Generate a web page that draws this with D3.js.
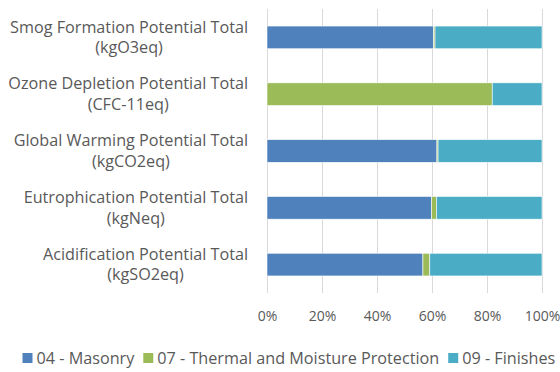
<!DOCTYPE html>
<html>
<head>
<meta charset="utf-8">
<script src="https://cdn.jsdelivr.net/npm/d3@7"></script>
<style>
  html, body { margin: 0; padding: 0; background: #fff; }
  svg { display: block; font-family: "Open Sans", Lato, sans-serif; }
</style>
</head>
<body>
<svg id="chart" width="560" height="372"></svg>
<script>
// Impact categories, top to bottom; each label split across two lines
const categories = [
  ["Smog Formation Potential Total", "(kgO3eq)"],
  ["Ozone Depletion Potential Total", "(CFC-11eq)"],
  ["Global Warming Potential Total", "(kgCO2eq)"],
  ["Eutrophication Potential Total", "(kgNeq)"],
  ["Acidification Potential Total", "(kgSO2eq)"]
];
const seriesNames = ["04 - Masonry", "07 - Thermal and Moisture Protection", "09 - Finishes"];
// Share of each impact (%) by division, same order as categories
const masonry  = [60.6, 0.0, 61.8, 59.9, 56.7];
const thermal  = [0.5, 81.9, 0.4, 1.7, 2.5];
const finishes = [38.9, 18.1, 37.8, 38.4, 40.8];
const tickValues = [0, 20, 40, 60, 80, 100];
const colors = ["#4F81BD", "#9BBB59", "#4BACC6"];

const svg = d3.select("#chart");
const margin = { left: 267, right: 18, top: 9, bottom: 79 };
const W = 560, H = 372;
const plotW = W - margin.left - margin.right;
const plotH = H - margin.top - margin.bottom;
const textColor = "#595959";

const rows = categories.map((c, i) => ({
  key: c.join(" "),
  lines: c,
  "04 - Masonry": masonry[i],
  "07 - Thermal and Moisture Protection": thermal[i],
  "09 - Finishes": finishes[i]
}));

const x = d3.scaleLinear().domain([0, 100]).range([0, plotW]);
const y = d3.scaleBand().domain(rows.map(r => r.key)).range([0, plotH]).paddingInner(0.6).paddingOuter(0.3);
const color = d3.scaleOrdinal().domain(seriesNames).range(colors);

const g = svg.append("g").attr("transform", `translate(${margin.left},${margin.top})`);

// vertical gridlines
g.append("g")
  .selectAll("line")
  .data(tickValues)
  .join("line")
  .attr("x1", d => x(d) + 0.5).attr("x2", d => x(d) + 0.5)
  .attr("y1", 0).attr("y2", plotH)
  .attr("stroke", "#D9D9D9").attr("stroke-width", 1);

// stacked bars
const stack = d3.stack().keys(seriesNames);
const layers = stack(rows);
g.append("g")
  .selectAll("g")
  .data(layers)
  .join("g")
  .attr("fill", d => color(d.key))
  .selectAll("rect")
  .data(d => d)
  .join("rect")
  .attr("x", d => x(d[0]))
  .attr("width", d => Math.max(0, x(d[1]) - x(d[0])))
  .attr("y", d => y(d.data.key))
  .attr("height", y.bandwidth())
  .attr("stroke", "#fff")
  .attr("stroke-width", 0.6);

// x axis tick labels
const xAxis = d3.axisBottom(x).tickValues(tickValues).tickFormat(d => d + "%").tickSize(0).tickPadding(18);
const xg = g.append("g").attr("transform", `translate(0,${plotH})`).call(xAxis);
xg.select(".domain").remove();
xg.selectAll("text").attr("fill", textColor).attr("font-size", 14).attr("font-family", "'Open Sans', sans-serif");

// category labels: two centred lines, block right-aligned against the axis
const labelRight = -19;
const lineH = 20.5;
const lab = g.append("g");
rows.forEach(r => {
  const t = lab.append("text")
    .attr("fill", textColor)
    .attr("font-size", 16.2)
    .attr("text-anchor", "middle");
  r.lines.forEach((ln, k) => {
    t.append("tspan").attr("x", 0).attr("y", 0).attr("dy", (k - 0.5) * lineH + 5.5).text(ln);
  });
  const maxW = d3.max(t.selectAll("tspan").nodes(), n => n.getComputedTextLength());
  const cx = labelRight - maxW / 2;
  const cy = y(r.key) + y.bandwidth() / 2;
  t.attr("transform", `translate(${cx},${cy})`);
  t.selectAll("tspan").attr("x", 0);
});

// legend
const legendY = 358;
const legend = svg.append("g");
let lx = 22.5;
seriesNames.forEach((name, i) => {
  legend.append("rect")
    .attr("x", lx).attr("y", legendY - 5).attr("width", 10).attr("height", 10)
    .attr("fill", colors[i]);
  const t = legend.append("text")
    .attr("x", lx + 14).attr("y", legendY + 5.5)
    .attr("fill", textColor).attr("font-size", 16.2)
    .text(name);
  lx += 14 + t.node().getComputedTextLength() + 9;
});
</script>
</body>
</html>
